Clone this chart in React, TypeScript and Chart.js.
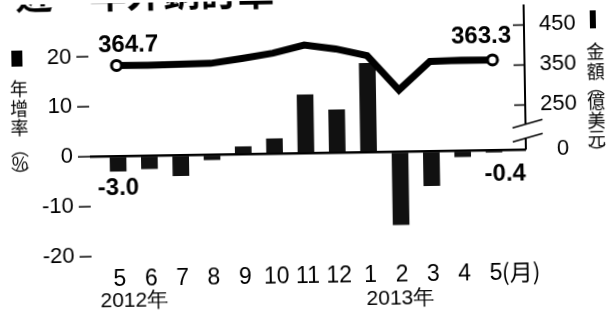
import React, { useEffect, useRef } from "react";
import { Chart, registerables } from "chart.js";

Chart.register(...registerables);

// ---- data ----
const months = ["5", "6", "7", "8", "9", "10", "11", "12", "1", "2", "3", "4", "5"];
const growthRate = [-3.0, -2.6, -4.1, -1.0, 1.5, 3.0, 11.7, 8.6, 17.8, -14.6, -6.9, -1.2, -0.4];
const amount = [364.7, 364, 365, 366, 377, 389, 408, 397, 379, 292, 362, 364, 363.3];
const leftTicks = [-20, -10, 0, 10, 20];
const rightTicks = [250, 350, 450];
const rightZeroLabel = "0";
const yearLabels = ["2012年", "2013年"];
const leftTitle = ["年", "增", "率", "︵", "%", "︶"];
const rightTitle = ["金", "額", "︵", "億", "美", "元", "︶"];
const chartTitle = "近一年外銷訂單";
const monthUnit = "(月)";

const FONT = "'Liberation Sans', Arial, sans-serif";
const CJK = "'Noto Sans CJK TC', 'Noto Sans CJK SC', sans-serif";

const decorPlugin = {
  id: "decor",
  afterDraw(chart: any) {
    const { ctx, chartArea: ca, scales } = chart;
    const x = scales.x, y = scales.y, y1 = scales.y1;
    const y0 = y.getPixelForValue(0);
    ctx.save();
    ctx.strokeStyle = "#000";
    ctx.fillStyle = "#000";

    // right axis line with break
    const ax = ca.right;
    const y250 = y1.getPixelForValue(250);
    const b1 = y250 + 19, b2 = y250 + 33;
    ctx.lineWidth = 2;
    ctx.beginPath();
    ctx.moveTo(ax, ca.top);
    ctx.lineTo(ax, b1);
    ctx.moveTo(ax, b2);
    ctx.lineTo(ax, y0);
    ctx.stroke();
    ctx.lineWidth = 1.5;
    rightTicks.forEach((v) => {
      const py = Math.round(y1.getPixelForValue(v)) + 0.5;
      ctx.beginPath();
      ctx.moveTo(ax - 11, py);
      ctx.lineTo(ax, py);
      ctx.stroke();
    });
    [b1, b2].forEach((by) => {
      ctx.beginPath();
      ctx.moveTo(ax - 13, by + 4);
      ctx.lineTo(ax + 17, by - 4);
      ctx.stroke();
    });

    // right "0" label at broken baseline
    ctx.font = `22px ${FONT}`;
    ctx.textAlign = "center";
    ctx.textBaseline = "middle";
    ctx.fillText(rightZeroLabel, ax + 37, y0);

    // data labels
    ctx.font = `bold 24px ${FONT}`;
    const last = amount.length - 1;
    ctx.fillText(amount[0].toFixed(1), x.getPixelForValue(0) + 12, y1.getPixelForValue(amount[0]) - 20);
    ctx.fillText(amount[last].toFixed(1), x.getPixelForValue(last) - 11, y1.getPixelForValue(amount[last]) - 24);
    ctx.fillText(growthRate[0].toFixed(1), x.getPixelForValue(0), y.getPixelForValue(growthRate[0]) + 17);
    ctx.fillText(growthRate[last].toFixed(1), x.getPixelForValue(last) + 11, y.getPixelForValue(growthRate[last]) + 22);

    // month unit and years
    ctx.font = `23px ${CJK}`;
    ctx.textAlign = "left";
    ctx.fillText(monthUnit, x.getPixelForValue(last) + 6, ca.bottom + 22);
    ctx.font = `21px ${FONT}`;
    ctx.textAlign = "center";
    ctx.fillText(yearLabels[0], x.getPixelForValue(0.45), 298);
    ctx.fillText(yearLabels[1], x.getPixelForValue(8.94), 300);

    // vertical axis titles
    ctx.font = `18px ${CJK}`;
    const leftY = [84, 104, 123, 144, 159, 171];
    leftTitle.forEach((c, i) => ctx.fillText(c, 20, leftY[i]));
    const rightY = [56, 76, 91, 106, 125, 143, 157];
    rightTitle.forEach((c, i) => ctx.fillText(c, 597, rightY[i]));

    // legend markers
    ctx.fillRect(13, 46, 11, 16);
    ctx.fillRect(592, 15, 6, 18);

    // cut-off title
    ctx.font = `bold 37px ${CJK}`;
    ctx.textAlign = "left";
    ctx.textBaseline = "alphabetic";
    ctx.fillText(chartTitle, 18, 5);

    ctx.restore();
  },
};

const noPad = (s: any) => {
  s.paddingTop = 0;
  s.paddingBottom = 0;
  s.paddingLeft = 0;
  s.paddingRight = 0;
};

export default function App() {
  const ref = useRef<HTMLCanvasElement | null>(null);
  useEffect(() => {
    if (!ref.current) return;
    const chart = new Chart(ref.current, {
      type: "bar",
      data: {
        datasets: [
          {
            type: "line",
            data: amount.map((v, i) => ({ x: i, y: v })),
            yAxisID: "y1",
            borderColor: "#000",
            borderWidth: 7,
            tension: 0,
            pointRadius: (c: any) => (c.dataIndex === 0 || c.dataIndex === amount.length - 1 ? 5 : 0),
            pointBackgroundColor: "#fff",
            pointBorderColor: "#000",
            pointBorderWidth: 3,
            order: 1,
            clip: false,
          } as any,
          {
            type: "bar",
            data: growthRate.map((v, i) => ({ x: i, y: v })),
            yAxisID: "y",
            backgroundColor: "#111",
            barThickness: 16,
            order: 2,
          } as any,
        ],
      },
      options: {
        responsive: false,
        animation: false,
        devicePixelRatio: 1,
        layout: { padding: { top: 5, left: 0, right: 0, bottom: 0 } },
        plugins: { legend: { display: false }, tooltip: { enabled: false } },
        scales: {
          x: {
            type: "linear",
            offset: false,
            min: -0.894,
            max: 13.02,
            afterBuildTicks: (s: any) => {
              s.ticks = months.map((_, i) => ({ value: i }));
            },
            afterFit: (s: any) => {
              s.height = 61;
              noPad(s);
            },
            ticks: {
              autoSkip: false,
              maxRotation: 0,
              padding: 2,
              color: "#000",
              font: { family: FONT, size: 23 },
              callback: (v: any) => months[Math.round(Number(v))],
            },
            grid: { display: false },
            border: { display: false },
          },
          y: {
            position: "left",
            min: -20,
            max: 29.11,
            afterBuildTicks: (s: any) => {
              s.ticks = leftTicks.map((v) => ({ value: v }));
            },
            afterFit: (s: any) => {
              s.width = 90;
              noPad(s);
            },
            ticks: { padding: 5, color: "#000", font: { family: FONT, size: 22 } },
            grid: {
              color: (c: any) => (c.tick && c.tick.value === 0 ? "#000" : "rgba(0,0,0,0)"),
              lineWidth: 2.5,
              tickColor: "#000",
              tickWidth: 1.5,
              tickLength: 12,
            },
            border: { display: false },
          },
          y1: {
            position: "right",
            min: -111.7,
            max: 500.6,
            afterBuildTicks: (s: any) => {
              s.ticks = rightTicks.map((v) => ({ value: v }));
            },
            afterFit: (s: any) => {
              s.width = 84;
              noPad(s);
            },
            ticks: { padding: 7, color: "#000", font: { family: FONT, size: 22 } },
            grid: { display: false },
            border: { display: false },
          },
        },
      } as any,
      plugins: [decorPlugin],
    });
    return () => chart.destroy();
  }, []);
  return (
    <div style={{ position: "fixed", left: 0, top: 0, width: 610, height: 314, background: "#fff" }}>
      <canvas
        ref={ref}
        width={610}
        height={314}
        style={{ display: "block", transform: "rotate(-0.92deg)", transformOrigin: "305px 157px" }}
      />
    </div>
  );
}
